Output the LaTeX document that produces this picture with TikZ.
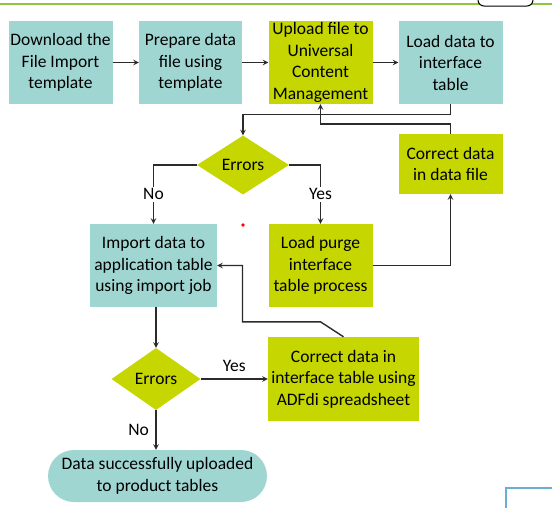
\documentclass[tikz,border=0pt]{standalone}
\usepackage{fontspec}
\setmainfont{Carlito}
\usepackage{tikz}
\usetikzlibrary{shapes.geometric, arrows}
\definecolor{FlowTeal}{HTML}{A0D6D2}
\definecolor{FlowLime}{HTML}{C5D600}
\definecolor{FlowLine}{HTML}{2B2B2B}
\tikzstyle{tealbox} = [rectangle, minimum width=104pt, minimum height=83pt, inner sep=0pt, align=center, fill=FlowTeal]
\tikzstyle{limebox} = [rectangle, minimum width=104pt, minimum height=83pt, inner sep=0pt, align=center, fill=FlowLime]
\tikzstyle{decision} = [diamond, aspect=1.56, minimum width=92pt, minimum height=59pt, inner sep=0pt, fill=FlowLime]
\tikzstyle{terminal} = [rectangle, rounded corners=26pt, minimum width=219pt, minimum height=52pt, inner sep=0pt, align=center, fill=FlowTeal]
\tikzstyle{arrow} = [line width=1.4pt, draw=FlowLine, ->, >=stealth]
\tikzstyle{answer} = [fill=white, inner sep=1.5pt]

\begin{document}
\begin{tikzpicture}[x=1pt, y=1pt, node distance=130pt, font=\fontsize{17.5}{21.5}\selectfont]
\useasboundingbox (0,0) rectangle (552,-507);

% bits of the slide round the chart
\draw[line width=2pt, color={rgb,255:red,141;green,198;blue,63}] (0,-3.5) -- (552,-3.5);
\draw[line width=1pt, fill=white, rounded corners=6pt] (478,4) -- (478,-6) -- (533,-6) -- (533,4);
\draw[line width=2pt, color={rgb,255:red,106;green,175;blue,208}] (505.5,-508) -- (505.5,-488) -- (553,-488);
\fill[red] (243,-225) circle (1.8);

\node (dl) [tealbox] at (60.5,-62.5) {Download the\\File Import\\template};
\node (prep) [tealbox, right of=dl, minimum width=103pt] {Prepare data\\file using\\template};
\node (upload) [limebox, right of=prep] {Upload file to\\Universal\\Content\\Management};
\node (load) [tealbox, right of=upload] {Load data to\\interface\\table};

\node (fixfile) [limebox, below of=load, yshift=28.5pt, minimum height=60pt] {Correct data\\in data file};
\node (err1) [decision, below of=upload, xshift=-77.5pt, yshift=27.5pt] {Errors};

\node (purge) [limebox, below of=upload, yshift=-73pt] {Load purge\\interface\\table process};
\node (import) [tealbox, left of=purge, xshift=-37pt, minimum width=127pt] {Import data to\\application table\\using import job};

\node (err2) [decision, below of=import, xshift=2.5pt, yshift=16.5pt, minimum width=89pt, minimum height=62pt, aspect=1.44] {Errors};
\node (fixint) [limebox, right of=err2, xshift=57.5pt, minimum width=151pt, minimum height=84pt] {Correct data in\\interface table using\\ADFdi spreadsheet};
\node (done) [terminal, below of=err2, xshift=1.5pt, yshift=33pt] {Data successfully uploaded\\to product tables};

\draw [arrow] (dl) -- (prep);
\draw [arrow] (prep) -- (upload);
\draw [arrow] (upload) -- (load);

\draw [arrow] (load.south) -- ++(0,-10) -| (err1.north);
\draw [arrow] (fixfile.north) -- ++(0,10) -| (upload.south);

\draw [arrow] (err1.west) -| node[answer, pos=0.75] {No} (import.north);
\draw [arrow] (err1.east) -| node[answer, pos=0.75] {Yes} (purge.north);
\draw [arrow] (purge.east) -| (fixfile.south);

\draw [arrow] (import.south -| err2.north) -- (err2.north);
\draw [arrow] (err2.east) -- node[above=3pt] {Yes} (fixint.west);
\draw [arrow] (err2.south) -- node[left=3pt] {No} (done.north -| err2.south);
\draw [arrow] (fixint.north) -- ++(-23,15) -- ++(-78,0) |- (import.east);

\end{tikzpicture}
\end{document}
